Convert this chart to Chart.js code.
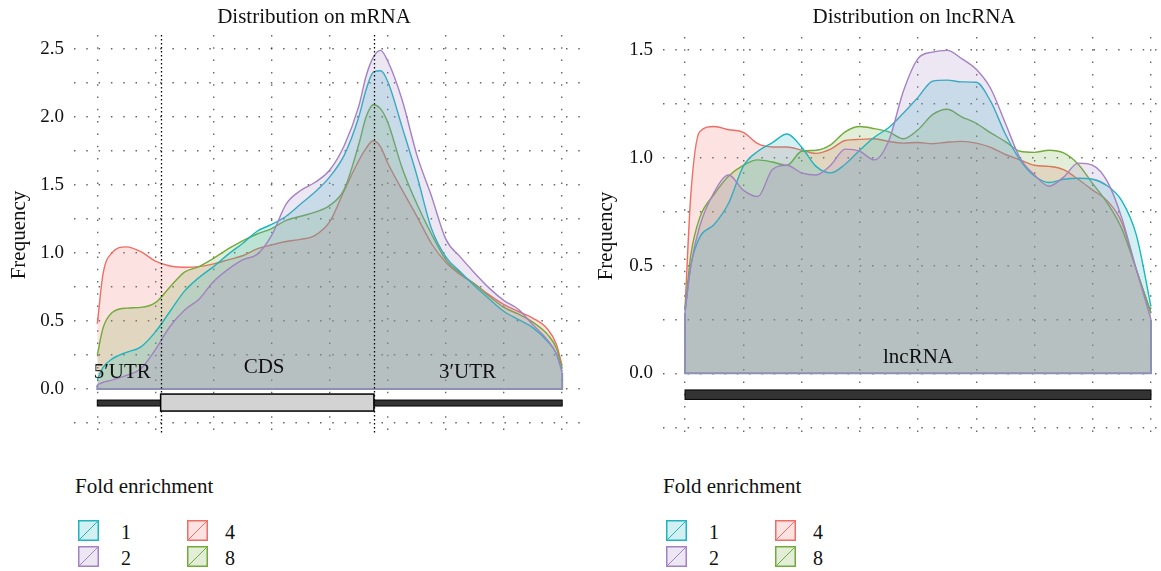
<!DOCTYPE html>
<html>
<head>
<meta charset="utf-8">
<script src="https://cdn.jsdelivr.net/npm/chart.js@4.4.1/dist/chart.umd.min.js"></script>
<style>
body { margin: 0; background: #fff; }
#wrap { position: relative; width: 1161px; height: 571px; overflow: hidden; font-family: "Liberation Serif", serif; color: #111; }
#wrap canvas { position: absolute; top: 0; }
.title { position: absolute; top: 4px; width: 400px; text-align: center; font-size: 21px; line-height: 24px; }
.legtitle { position: absolute; top: 474px; font-size: 21px; line-height: 24px; }
.key { position: absolute; }
.lab { position: absolute; font-size: 20px; line-height: 24px; }
</style>
</head>
<body>
<div id="wrap">
  <canvas id="mrnaChart" width="600" height="445" style="left:0"></canvas>
  <canvas id="lncChart" width="571" height="445" style="left:590px"></canvas>
  <div class="title" style="left:114px">Distribution on mRNA</div>
  <div class="title" style="left:714px">Distribution on lncRNA</div>
  <div id="legendLeft"></div>
  <div id="legendRight"></div>
</div>
<script>
// relative position along the transcript (0 = start, 8 = end)
const mrnaPos = [0, 0.1, 0.25, 0.5, 0.75, 1, 1.25, 1.5, 1.75, 2, 2.25, 2.5, 2.75, 3, 3.25, 3.5, 3.75, 4, 4.25, 4.5, 4.625, 4.75, 4.875, 5, 5.25, 5.5, 5.75, 6, 6.25, 6.5, 6.75, 7, 7.25, 7.5, 7.75, 7.9, 8];
const mrnaFold1 = [0.07, 0.16, 0.22, 0.27, 0.31, 0.42, 0.57, 0.72, 0.82, 0.9, 0.99, 1.07, 1.16, 1.21, 1.27, 1.36, 1.45, 1.56, 1.72, 2.0, 2.2, 2.33, 2.34, 2.26, 1.92, 1.57, 1.18, 0.97, 0.86, 0.755, 0.66, 0.57, 0.51, 0.45, 0.35, 0.26, 0.13];
const mrnaFold2 = [0.03, 0.05, 0.065, 0.1, 0.15, 0.29, 0.46, 0.58, 0.66, 0.79, 0.88, 0.95, 0.99, 1.13, 1.36, 1.46, 1.52, 1.61, 1.79, 2.08, 2.3, 2.44, 2.49, 2.41, 2.12, 1.72, 1.42, 1.1, 0.97, 0.85, 0.74, 0.65, 0.585, 0.47, 0.36, 0.26, 0.12];
const mrnaFold4 = [0.48, 0.85, 1.0, 1.045, 1.01, 0.94, 0.905, 0.895, 0.9, 0.92, 0.95, 0.98, 1.03, 1.06, 1.085, 1.1, 1.13, 1.23, 1.46, 1.68, 1.77, 1.825, 1.78, 1.66, 1.46, 1.27, 1.07, 0.93, 0.84, 0.77, 0.69, 0.62, 0.57, 0.52, 0.44, 0.33, 0.17];
const mrnaFold8 = [0.25, 0.45, 0.56, 0.595, 0.6, 0.635, 0.75, 0.86, 0.9, 0.96, 1.03, 1.09, 1.14, 1.18, 1.24, 1.27, 1.3, 1.35, 1.47, 1.8, 2.0, 2.09, 2.06, 1.96, 1.62, 1.36, 1.14, 0.95, 0.85, 0.77, 0.68, 0.6, 0.55, 0.49, 0.4, 0.3, 0.15];

const lncPos = [0, 0.1, 0.25, 0.5, 0.75, 1, 1.25, 1.5, 1.75, 2, 2.25, 2.5, 2.75, 3, 3.25, 3.5, 3.75, 4, 4.25, 4.5, 4.75, 5, 5.25, 5.5, 5.75, 6, 6.25, 6.5, 6.75, 7, 7.25, 7.5, 7.75, 8];
const lncFold1 = [0.29, 0.5, 0.63, 0.69, 0.79, 0.96, 1.03, 1.07, 1.11, 1.05, 0.96, 0.93, 0.97, 1.035, 1.095, 1.14, 1.207, 1.28, 1.355, 1.36, 1.352, 1.35, 1.26, 1.11, 0.99, 0.915, 0.885, 0.9, 0.905, 0.9, 0.87, 0.8, 0.64, 0.31];
const lncFold2 = [0.28, 0.5, 0.68, 0.84, 0.92, 0.85, 0.82, 0.945, 0.965, 0.93, 0.92, 0.965, 1.04, 1.03, 0.99, 1.08, 1.31, 1.46, 1.49, 1.498, 1.46, 1.41, 1.32, 1.16, 1.0, 0.92, 0.868, 0.91, 0.975, 0.965, 0.89, 0.72, 0.48, 0.25];
const lncFold4 = [0.3, 0.83, 1.12, 1.145, 1.13, 1.118, 1.065, 1.05, 1.05, 1.035, 1.02, 1.04, 1.08, 1.085, 1.088, 1.075, 1.068, 1.071, 1.065, 1.072, 1.076, 1.068, 1.048, 1.015, 0.99, 0.965, 0.96, 0.945, 0.9, 0.85, 0.8, 0.7, 0.48, 0.28];
const lncFold8 = [0.3, 0.55, 0.72, 0.83, 0.915, 0.965, 0.99, 0.98, 0.965, 1.03, 1.035, 1.06, 1.12, 1.145, 1.135, 1.12, 1.088, 1.13, 1.2, 1.225, 1.19, 1.16, 1.115, 1.075, 1.03, 1.025, 1.035, 1.022, 0.97, 0.88, 0.79, 0.67, 0.48, 0.28];

const seriesNames = ['1', '2', '4', '8'];
const mrnaYTicks = [-0.25, 0, 0.25, 0.5, 0.75, 1, 1.25, 1.5, 1.75, 2, 2.25, 2.5];
const lncYTicks = [-0.25, 0, 0.25, 0.5, 0.75, 1, 1.25, 1.5];
const xGridTicks = [0, 1, 2, 3, 4, 5, 6, 7, 8];
const cdsBounds = [1.09, 4.76];
const mrnaRegionNames = ['5\u2032UTR', 'CDS', '3\u2032UTR'];
const lncRegionNames = ['lncRNA'];

// styles
const lineColors = ['#1fb4c0', '#a382c3', '#ee6e66', '#72ab3a'];
const fillColors = ['rgba(31,180,192,0.2)', 'rgba(163,130,195,0.2)', 'rgba(238,110,102,0.2)', 'rgba(114,171,58,0.2)'];
const drawOrder = [2, 1, 4, 3];
const font = '"Liberation Serif", serif';
const gridColor = 'rgba(0,0,0,0.6)';

function areaSets(pos, series) {
    const sets = series.map(function (vals, i) {
        return {
            label: seriesNames[i],
            data: pos.map((x, j) => ({ x: x, y: vals[j] })),
            borderColor: lineColors[i],
            backgroundColor: fillColors[i],
            borderWidth: 1.4,
            pointRadius: 0,
            fill: 'origin',
            cubicInterpolationMode: 'monotone',
            order: drawOrder[i]
        };
    });
    const x0 = pos[0], x1 = pos[pos.length - 1];
    const startMin = Math.min(...series.map(s => s[0]));
    const endMin = Math.min(...series.map(s => s[s.length - 1]));
    sets.push({
        label: 'baseline',
        data: [{ x: x0, y: startMin }, { x: x0, y: 0 }, { x: x1, y: 0 }, { x: x1, y: endMin }],
        borderColor: '#8c90b4',
        borderWidth: 2,
        pointRadius: 0,
        fill: false,
        tension: 0,
        order: 0
    });
    return sets;
}

// transcript sketch under the curves, region borders and region names
function geneModel(model) {
    return {
        id: 'geneModel',
        afterDatasetsDraw(chart) {
            const ctx = chart.ctx, xs = chart.scales.x, ys = chart.scales.y, area = chart.chartArea;
            ctx.save();
            ctx.strokeStyle = '#000';
            ctx.lineWidth = 1.3;
            ctx.setLineDash([1.5, 2.5]);
            model.bounds.forEach(function (b) {
                const px = Math.round(xs.getPixelForValue(b)) + 0.5;
                ctx.beginPath();
                ctx.moveTo(px, area.top);
                ctx.lineTo(px, area.bottom);
                ctx.stroke();
            });
            ctx.setLineDash([]);

            function rect(r, fill, lw) {
                const l = xs.getPixelForValue(r.x0), rr = xs.getPixelForValue(r.x1);
                const t = ys.getPixelForValue(r.y0), b = ys.getPixelForValue(r.y1);
                ctx.fillStyle = fill;
                ctx.fillRect(l, t, rr - l, b - t);
                ctx.lineWidth = lw;
                ctx.strokeStyle = '#000';
                ctx.strokeRect(l, t, rr - l, b - t);
            }
            rect(model.bar, '#333', 1);
            if (model.box) rect(model.box, '#d3d3d3', 1.5);

            ctx.fillStyle = '#111';
            ctx.font = '21px ' + font;
            ctx.textAlign = 'center';
            ctx.textBaseline = 'alphabetic';
            model.labels.forEach(function (lb) {
                ctx.fillText(lb.text, xs.getPixelForValue(lb.x), ys.getPixelForValue(lb.y));
            });
            ctx.restore();
        }
    };
}

function makeChart(id, pos, series, yTicks, xRange, yRange, pad, yWidth, model) {
    return new Chart(document.getElementById(id), {
        type: 'line',
        data: { datasets: areaSets(pos, series) },
        options: {
            responsive: false,
            animation: false,
            devicePixelRatio: 1,
            layout: { padding: pad },
            plugins: { legend: { display: false }, tooltip: { enabled: false }, title: { display: false } },
            scales: {
                x: {
                    type: 'linear',
                    min: xRange[0], max: xRange[1],
                    afterBuildTicks: s => { s.ticks = xGridTicks.map(v => ({ value: v })); },
                    afterFit: s => { s.height = 0; s.paddingLeft = 0; s.paddingRight = 0; },
                    ticks: { display: false, autoSkip: false },
                    grid: { color: gridColor, lineWidth: 1.4, drawTicks: false },
                    border: { display: false, dash: [1.5, 10.8] }
                },
                y: {
                    type: 'linear',
                    min: yRange[0], max: yRange[1],
                    afterBuildTicks: s => { s.ticks = yTicks.map(v => ({ value: v })); },
                    afterFit: s => { s.width = yWidth; s.paddingTop = 0; s.paddingBottom = 0; },
                    ticks: {
                        autoSkip: false,
                        padding: 10,
                        color: '#111',
                        font: { family: font, size: 19 },
                        callback: v => (Math.abs(v * 2 - Math.round(v * 2)) < 1e-9 ? v.toFixed(1) : '')
                    },
                    grid: { color: gridColor, lineWidth: 1.4, drawTicks: false },
                    border: { display: false, dash: [1.5, 10.8] },
                    title: { display: true, text: 'Frequency', color: '#111', padding: 0, font: { family: font, size: 21, lineHeight: 1.2 } }
                }
            }
        },
        plugins: [geneModel(model)]
    });
}

const mrnaEnd = mrnaPos[mrnaPos.length - 1];
makeChart('mrnaChart', mrnaPos, [mrnaFold1, mrnaFold2, mrnaFold4, mrnaFold8], mrnaYTicks,
    [-0.401, 8.41], [-0.338, 2.603], { left: 7, right: 14, top: 35, bottom: 10 }, 67, {
        bounds: cdsBounds,
        bar: { x0: mrnaPos[0], x1: mrnaEnd, y0: -0.081, y1: -0.125 },
        box: { x0: cdsBounds[0], x1: cdsBounds[1], y0: -0.037, y1: -0.162 },
        labels: [
            { text: mrnaRegionNames[0], x: 0.43, y: 0.083 },
            { text: mrnaRegionNames[1], x: 2.87, y: 0.115 },
            { text: mrnaRegionNames[2], x: 6.37, y: 0.083 }
        ]
    });

const lncEnd = lncPos[lncPos.length - 1];
makeChart('lncChart', lncPos, [lncFold1, lncFold2, lncFold4, lncFold8], lncYTicks,
    [-0.378, 8.172], [-0.286, 1.56], { left: 4, right: 0, top: 37, bottom: 10 }, 69, {
        bounds: [],
        bar: { x0: lncPos[0], x1: lncEnd, y0: -0.077, y1: -0.121 },
        box: null,
        labels: [{ text: lncRegionNames[0], x: 4, y: 0.049 }]
    });

// legends: two columns, filled top to bottom
function buildLegend(el, offset) {
    let html = '<div class="legtitle" style="left:' + (75 + offset) + 'px">Fold enrichment</div>';
    seriesNames.forEach(function (name, i) {
        const col = Math.floor(i / 2), row = i % 2;
        const bx = 78 + col * 109 + offset, by = 520 + row * 25.5;
        const lx = 121 + col * 104 + offset, ly = 519.5 + row * 26;
        html += '<svg class="key" width="21" height="21" style="left:' + bx + 'px;top:' + by + 'px">' +
            '<rect x="0.75" y="0.75" width="19.5" height="19.5" fill="' + fillColors[i] + '" stroke="' + lineColors[i] + '" stroke-width="1.5"/>' +
            '<line x1="1.5" y1="19.5" x2="19.5" y2="1.5" stroke="' + lineColors[i] + '" stroke-width="1"/></svg>';
        html += '<div class="lab" style="left:' + lx + 'px;top:' + ly + 'px">' + name + '</div>';
    });
    el.innerHTML = html;
}
buildLegend(document.getElementById('legendLeft'), 0);
buildLegend(document.getElementById('legendRight'), 588);
</script>
</body>
</html>
